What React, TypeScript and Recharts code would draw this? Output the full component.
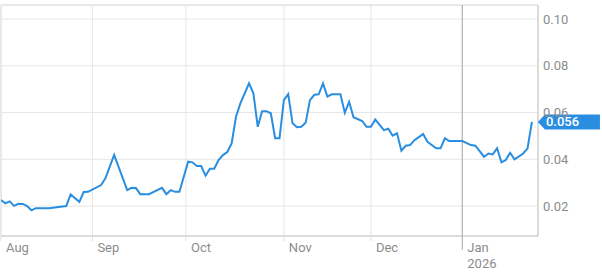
import { LineChart, Line, XAxis, YAxis, CartesianGrid, ReferenceLine, ReferenceDot } from 'recharts';

// trading-day index since Aug 1 (only the turning points)
const dayIndex = [
  0, 1, 2, 3, 4, 5, 6, 7, 8, 11, 15, 16, 18, 19, 20, 23, 24, 26, 29, 30,
  31, 32, 34, 37, 38, 39, 40, 41, 43, 44, 45, 46, 47, 48, 49, 50, 51, 52, 53, 54,
  55, 57, 58, 59, 60, 61, 62, 63, 64, 65, 66, 67, 68, 69, 70, 71, 72, 73, 74, 75,
  76, 78, 79, 80, 81, 83, 84, 85, 86, 88, 89, 90, 91, 92, 93, 94, 95, 97, 98, 100,
  101, 102, 103, 106, 108, 109, 111, 112, 113, 114, 115, 116, 117, 118, 120, 121, 122,
];
const price = [
  0.0226, 0.0212, 0.022, 0.0201, 0.021, 0.0209, 0.02, 0.0182, 0.0191, 0.0191, 0.02, 0.025, 0.0218, 0.026, 0.0261, 0.029, 0.0319, 0.0419, 0.0268, 0.0278,
  0.0277, 0.0251, 0.0251, 0.0278, 0.0251, 0.0268, 0.0261, 0.0261, 0.039, 0.0387, 0.0371, 0.0371, 0.033, 0.036, 0.036, 0.0397, 0.0418, 0.0431, 0.0468, 0.0582,
  0.0639, 0.0725, 0.0682, 0.0539, 0.0606, 0.0606, 0.0597, 0.049, 0.049, 0.0653, 0.0679, 0.0554, 0.0537, 0.0539, 0.0556, 0.0653, 0.0676, 0.0678, 0.0725, 0.0668,
  0.0678, 0.0678, 0.0599, 0.0646, 0.058, 0.0564, 0.0539, 0.0539, 0.057, 0.0525, 0.0531, 0.0501, 0.0511, 0.0437, 0.0458, 0.0461, 0.0482, 0.0508, 0.0475, 0.0447,
  0.0447, 0.049, 0.0478, 0.0478, 0.0461, 0.0458, 0.0411, 0.0425, 0.0421, 0.0447, 0.0387, 0.0397, 0.0428, 0.04, 0.0425, 0.0447, 0.056,
];

const monthTicks = [0, 21, 42.5, 65, 85, 106];
const monthLabels = ['Aug', 'Sep', 'Oct', 'Nov', 'Dec', 'Jan'];
const yearTick = 106;
const yearLabel = '2026';
const yTicks = [0.02, 0.04, 0.06, 0.08, 0.1];
const lastValue = 0.056;

const data = dayIndex.map((i, k) => ({ idx: i, price: price[k] }));
const lastIdx = dayIndex[dayIndex.length - 1];

const BLUE = '#2a8ee0';
const TEXT = '#8c8c8c';

function MonthTick({ x, y, payload }: any) {
  const k = monthTicks.indexOf(payload.value);
  const isYear = payload.value === yearTick;
  return (
    <g>
      <line x1={x} x2={x} y1={y} y2={y + (isYear ? 14 : 5)} stroke={isYear ? '#aaa' : '#ddd'} />
      <text x={x + 5} y={y + 16} fill={TEXT} fontSize={13}>{monthLabels[k]}</text>
      {isYear && <text x={x + 5} y={y + 32} fill={TEXT} fontSize={13}>{yearLabel}</text>}
    </g>
  );
}

function Badge({ cx, cy }: any) {
  const left = cx + 6;
  return (
    <g>
      <polygon
        points={`${left},${cy} ${left + 7},${cy - 7.5} ${left + 62},${cy - 7.5} ${left + 62},${cy + 7.5} ${left + 7},${cy + 7.5}`}
        fill={BLUE}
      />
      <text x={left + 8} y={cy + 4.5} fill="#fff" fontSize={13} fontWeight={500}>{lastValue.toFixed(3)}</text>
    </g>
  );
}

export default function App() {
  return (
    <div style={{ position: 'absolute', left: 0, top: 0, fontFamily: 'Roboto, sans-serif' }}>
      <LineChart width={602} height={272} data={data} margin={{ top: 5, right: 0, bottom: 0, left: 1 }}>
        <CartesianGrid stroke="#e6e6e6" />
        <XAxis
          dataKey="idx"
          type="number"
          domain={[0, 123.4]}
          ticks={monthTicks}
          interval={0}
          tick={<MonthTick />}
          tickLine={false}
          tickSize={0}
          tickMargin={0}
          height={36}
          axisLine={{ stroke: '#c4c4c4' }}
          allowDataOverflow
        />
        <YAxis
          orientation="right"
          domain={[0.0072, 0.106]}
          ticks={yTicks}
          interval={0}
          tickFormatter={(v: number) => v.toFixed(2)}
          tick={{ fill: TEXT, fontSize: 13 }}
          tickLine={false}
          tickSize={0}
          tickMargin={5}
          width={64}
          axisLine={{ stroke: '#c4c4c4' }}
          allowDataOverflow
        />
        <ReferenceLine y={0.106} stroke="#e0e0e0" />
        <ReferenceLine x={0} stroke="#e0e0e0" />
        <ReferenceLine x={yearTick} stroke="#aaa" />
        <Line
          type="linear"
          dataKey="price"
          stroke={BLUE}
          strokeWidth={2}
          dot={false}
          isAnimationActive={false}
        />
        <ReferenceDot x={lastIdx} y={lastValue} r={0} shape={<Badge />} ifOverflow="visible" />
      </LineChart>
    </div>
  );
}
